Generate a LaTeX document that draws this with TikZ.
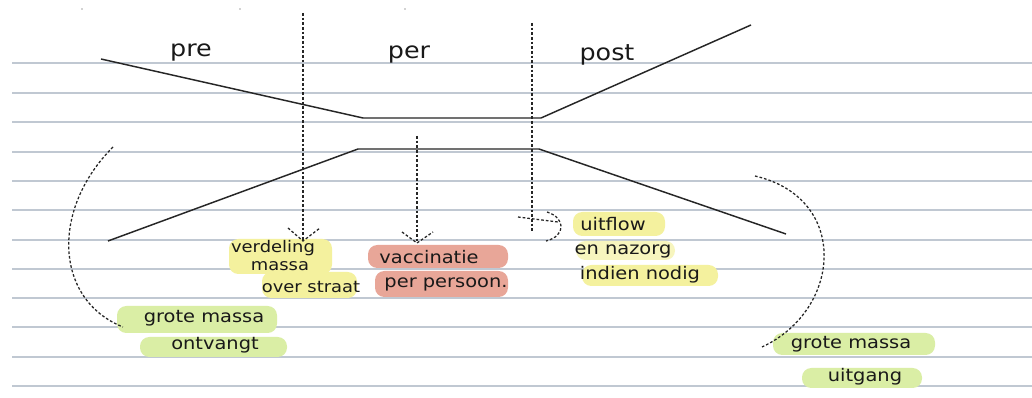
\documentclass[tikz,border=0pt]{standalone}
\usepackage{fontspec}
\setmainfont{DejaVu Sans}
\newfontfamily\hand[FakeStretch=1.12]{DejaVu Sans}
\definecolor{rulec}{RGB}{192,200,210}
\definecolor{hlyellow}{RGB}{244,241,158}
\definecolor{hlpale}{RGB}{247,245,190}
\definecolor{hlred}{RGB}{232,166,152}
\definecolor{hlgreen}{RGB}{218,238,165}
\tikzset{
  rule/.style={draw=rulec, line width=0.8pt},
  funnel/.style={draw=black!85, line width=1.1pt},
  dsh/.style={draw=black!85, line width=0.95pt, dash pattern=on 2pt off 1.5pt},
  hl/.style={rounded corners=7pt},
  txt/.style={inner sep=0pt, font=\hand\fontsize{13}{13}\selectfont, text=black!90},
  smalltxt/.style={inner sep=0pt, font=\hand\fontsize{12}{12}\selectfont, text=black!90},
  head/.style={inner sep=0pt, font=\hand\fontsize{17}{17}\selectfont, text=black!90}
}
\begin{document}
\begin{tikzpicture}[x=0.75pt,y=-0.75pt]
\useasboundingbox (0,0) rectangle (1032,398);
\fill[white] (0,0) rectangle (1032,398);
% ruled paper
\foreach \yy in {63,93,122,152,181,210,240,269,298,327,357,386}
  \draw[rule] (12,\yy) -- (1032,\yy);
\foreach \xx in {82,240,405}
  \fill[black!35] (\xx,9) circle (0.9);
% funnel
\draw[funnel] (101,59) -- (363,118) -- (541,118) -- (751,25);
\draw[funnel] (108,241) -- (358,149) -- (539,149) -- (786,234);
% highlights
\fill[hlyellow,hl] (229,239) rectangle (332,274);
\fill[hlyellow,hl] (262,272) rectangle (357,298);
\fill[hlred,hl] (368,245) rectangle (508,268);
\fill[hlred,hl] (375,271) rectangle (508,297);
\fill[hlyellow,hl] (573,212) rectangle (665,236);
\fill[hlpale,hl] (576,241) rectangle (675,260);
\fill[hlyellow,hl] (582,265) rectangle (718,286);
\fill[hlgreen,hl] (117,306) rectangle (277,333);
\fill[hlgreen,hl] (140,337) rectangle (287,357);
\fill[hlgreen,hl] (773,333) rectangle (935,355);
\fill[hlgreen,hl] (802,368) rectangle (922,388);
% phase labels
\node[head] (pre) at (191,53) {pre};
\node[head] (per) at (409,55) {per};
\node[head] (post) at (607,55) {post};
% texts
\node[smalltxt] (verd) at (273,248) {verdeling};
\node[smalltxt] (mass) at (280,266) {massa};
\node[smalltxt] (straat) at (311,287) {over straat};
\node[txt] (vacc) at (429,257) {vaccinatie};
\node[txt] (perp) at (446,284) {per persoon.};
\node[txt] (uitf) at (613,224) {uitflow};
\node[txt] (naz) at (623,251) {en nazorg};
\node[txt] (nod) at (640,275) {indien nodig};
\node[txt] (grl) at (204,318) {grote massa};
\node[txt] (ont) at (215,345) {ontvangt};
\node[txt] (grr) at (851,344) {grote massa};
\node[txt] (uitg) at (865,377) {uitgang};
% dashed connectors
\coordinate (d1) at (303,13);
\coordinate (t1) at (303,241);
\draw[dsh] (d1) -- (t1);
\draw[dsh] (t1) ++(-15,-13) -- (t1) -- ++(17,-13);
\coordinate (d2) at (417,136);
\coordinate (t2) at (417,243);
\draw[dsh] (d2) -- (t2);
\draw[dsh] (t2) ++(-15,-11) -- (t2) -- ++(16,-11);
\coordinate (d3) at (532,23);
\draw[dsh] (d3) -- (532,231);
\coordinate (h3) at (518,217);
\coordinate (t3) at (558,222);
\draw[dsh] (h3) -- (t3);
\draw[dsh] (547,212) .. controls (566,218) and (566,236) .. (546,241);
% dashed arcs
\coordinate (al) at (113,147);
\coordinate (bl) at (123,327);
\draw[dsh] (al) .. controls (50,210) and (55,300) .. (bl);
\coordinate (ar) at (755,176);
\coordinate (br) at (762,347);
\draw[dsh] (ar) .. controls (850,198) and (842,310) .. (br);
\end{tikzpicture}
\end{document}
